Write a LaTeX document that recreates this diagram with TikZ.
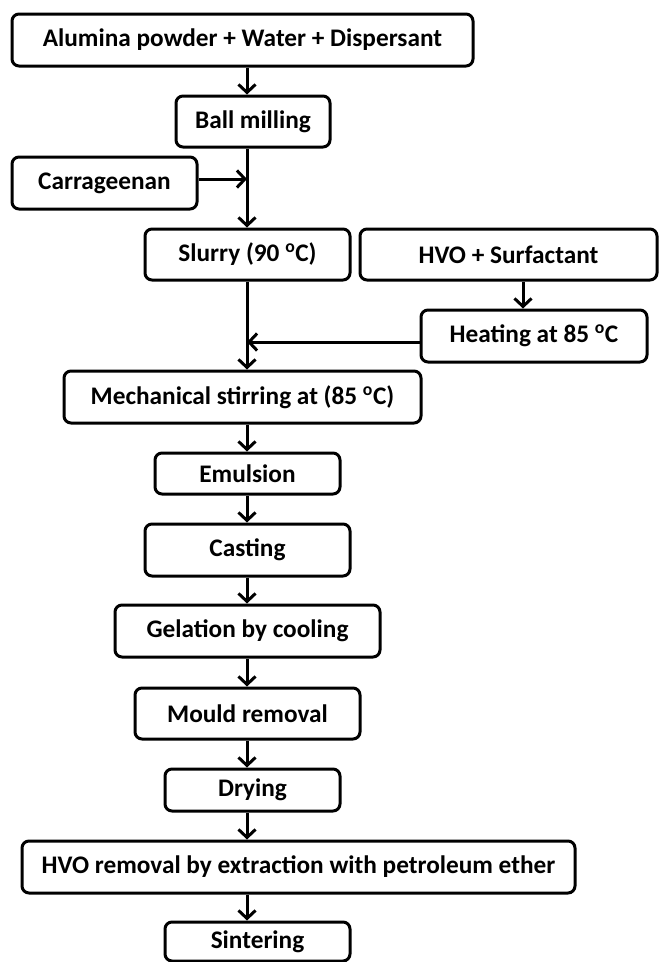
\documentclass[tikz,border=0pt]{standalone}
\usepackage{fontspec}
\setmainfont{Carlito}
\usetikzlibrary{arrows.meta,calc}
\begin{document}
\begin{tikzpicture}[x=1pt,y=-1pt,
  box/.style={draw, line width=3pt, rounded corners=7pt, inner sep=0pt, align=center,
    font=\fontsize{25.3}{30}\selectfont\bfseries},
  arr/.style={line width=3pt, -{Straight Barb[length=8pt,width=17pt]}}]
\useasboundingbox (0,0) rectangle (659,962);
\fill[white] (0,0) rectangle (659,962);
\coordinate (mx) at (247,0);
\coordinate (hx) at (523,0);
\node[box, minimum width=461pt, minimum height=52pt] (alumina) at (242.5,40) {Alumina powder + Water + Dispersant};
\node[box, minimum width=154pt, minimum height=51pt] (ball) at (253,121.5) {Ball milling};
\node[box, minimum width=185pt, minimum height=52pt] (carr) at (104.5,183) {Carrageenan};
\node[box, minimum width=205pt, minimum height=51pt] (slurry) at (247.5,254.5) {Slurry (90 \textsuperscript{o}C)};
\node[box, minimum width=297pt, minimum height=51pt] (hvo) at (508.5,254.5) {HVO + Surfactant};
\node[box, minimum width=226pt, minimum height=52pt] (heat) at (534,336) {Heating at 85 \textsuperscript{o}C};
\node[box, minimum width=357pt, minimum height=52pt] (mech) at (242.5,397) {Mechanical stirring at (85 \textsuperscript{o}C)};
\node[box, minimum width=185pt, minimum height=41pt] (emul) at (247.5,473.5) {Emulsion};
\node[box, minimum width=205pt, minimum height=52pt] (cast) at (247.5,550) {Casting};
\node[box, minimum width=265pt, minimum height=52pt] (gel) at (247.5,631) {Gelation by cooling};
\node[box, minimum width=225pt, minimum height=51pt] (mould) at (247.5,713.5) {Mould removal};
\node[box, minimum width=175pt, minimum height=42pt] (dry) at (252.5,790) {Drying};
\node[box, minimum width=553pt, minimum height=52pt] (hvor) at (298.5,867) {HVO removal by extraction with petroleum ether};
\node[box, minimum width=185pt, minimum height=39pt] (sint) at (257.5,941.5) {Sintering};
\draw[arr] (alumina.south -| mx) -- (ball.north -| mx);
\draw[arr] (ball.south -| mx) -- (slurry.north -| mx);
\draw[arr] ([yshift=4pt]carr.east) -- ([yshift=4pt]carr.east -| mx);
\draw[arr] (hvo.south -| hx) -- (heat.north -| hx);
\draw[arr] ([yshift=-6pt]heat.west) -- ([yshift=-6pt]heat.west -| mx);
\draw[arr] (slurry.south -| mx) -- (mech.north -| mx);
\draw[arr] (mech.south -| mx) -- (emul.north -| mx);
\draw[arr] (emul.south -| mx) -- (cast.north -| mx);
\draw[arr] (cast.south -| mx) -- (gel.north -| mx);
\draw[arr] (gel.south -| mx) -- (mould.north -| mx);
\draw[arr] (mould.south -| mx) -- (dry.north -| mx);
\draw[arr] (dry.south -| mx) -- (hvor.north -| mx);
\draw[arr] (hvor.south -| mx) -- (sint.north -| mx);
\end{tikzpicture}
\end{document}
